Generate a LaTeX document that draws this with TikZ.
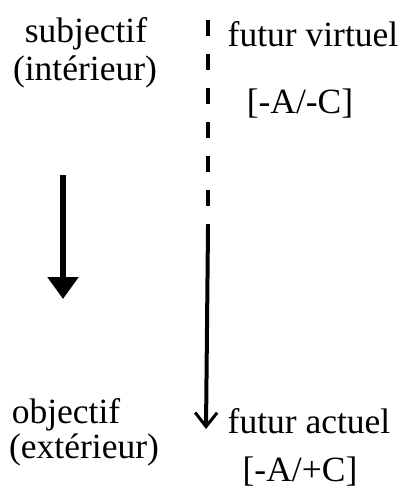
\documentclass[tikz,border=0pt]{standalone}
\usepackage{fontspec}
\setmainfont{Liberation Serif}
\usetikzlibrary{arrows.meta}
\begin{document}
\begin{tikzpicture}[x=1pt,y=-1pt,
  lbl/.style={font=\fontsize{35.5}{40}\selectfont, inner sep=0pt, anchor=base},
  thick line/.style={line width=6pt},
  thin line/.style={line width=4pt}]
\useasboundingbox (0,0) rectangle (406,490);
\node[lbl] (subj) at (86,42) {subjectif};
\node[lbl] (inte) at (85,80) {(intérieur)};
\node[lbl] (fv) at (313,46) {futur virtuel};
\node[lbl] (ac1) at (300,113) {[-A/-C]};
\node[lbl] (obj) at (66,423) {objectif};
\node[lbl] (exte) at (84,458) {(extérieur)};
\node[lbl] (fa) at (309,433) {futur actuel};
\node[lbl] (ac2) at (300,481) {[-A/+C]};
\coordinate (la1) at (63,175);
\coordinate (la2) at (63,299);
\draw[thick line,-{Triangle[width=30pt,length=22pt]}] (la1) -- (la2);
\coordinate (ra1) at (208,20);
\coordinate (ra2) at (208,227);
\coordinate (ra3) at (206,429);
\draw[thin line, dash pattern=on 16pt off 18pt] (ra1) -- (ra2);
\draw[thin line, -{Straight Barb[width=22pt,length=14pt,line width=3pt]}] (ra2) -- (ra3);
\end{tikzpicture}
\end{document}
